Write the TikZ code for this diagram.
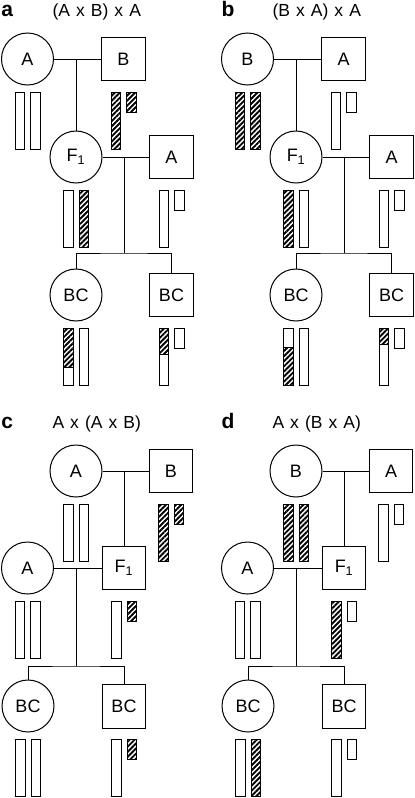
\documentclass[tikz,border=0pt]{standalone}
\usepackage{fontspec}
\setmainfont{Liberation Sans}
\newfontfamily\titlefont[WordSpace=1.25]{Liberation Sans}
\usepackage{tikz}
\usetikzlibrary{calc, patterns.meta}

\tikzset{
  female/.style={circle, draw, line width=1pt, minimum size=52pt, inner sep=0pt,
    font=\fontsize{18}{20}\selectfont},
  male/.style={rectangle, draw, line width=1pt, minimum size=43.5pt, inner sep=0pt,
    font=\fontsize{18}{20}\selectfont},
  panellabel/.style={anchor=base west, inner sep=0pt, font=\fontsize{21}{23}\selectfont\bfseries},
  crosstitle/.style={anchor=base west, inner sep=0pt, font=\titlefont\fontsize{17.5}{19}\selectfont},
  plainbar/.style={draw, line width=1pt, fill=white},
  hatchbar/.style={draw, line width=1pt, pattern={Lines[angle=45,distance=3.6pt,line width=1.9pt]}}
}

% chromosome bars below a node: #1 node, #2 left edge from its centre, #3 style
\newcommand{\chrlong}[3]{\draw[#3] ($(#1)+(#2,33)$) rectangle ++(9.5,57);}
\newcommand{\chrshort}[3]{\draw[#3] ($(#1)+(#2,33)$) rectangle ++(9.5,20);}
% #3 length of the upper part, #4 upper style, #5 lower style
\newcommand{\chrsplit}[5]{%
  \draw[#4] ($(#1)+(#2,33)$) rectangle ++(9.5,#3);
  \draw[#5] ($(#1)+(#2,33+#3)$) rectangle ++(9.5,57-#3);}

\begin{document}
\begin{tikzpicture}[x=1pt, y=-1pt, line width=1pt]
\useasboundingbox (0,0) rectangle (415,798);

% ---- a : (A x B) x A
\begin{scope}
  \node[panellabel] at (1,16.5) {a};
  \node[crosstitle] at (52,16) {(A x B) x A};
  \node[female] (a-dam) at (27.5,59) {A};
  \node[male] (a-sire) at (123.5,59) {B};
  \node[female] (a-f1) at (76,157) {F\textsubscript{1}};
  \node[male] (a-mate) at (171.5,157) {A};
  \node[female] (a-bcf) at (76,295) {BC};
  \node[male] (a-bcm) at (171.5,295) {BC};
  \coordinate (a-sib) at (124,253);

  \draw (a-dam) -- (a-sire);
  \draw (a-f1) -- (a-f1 |- a-dam);
  \draw (a-f1) -- (a-mate);
  \draw (a-sib |- a-f1) -- (a-sib);
  \draw (a-bcf) |- (a-sib) -| (a-bcm);

  \chrlong{a-dam}{-12.5}{plainbar} \chrlong{a-dam}{3}{plainbar}
  \chrlong{a-sire}{-12.5}{hatchbar} \chrshort{a-sire}{3}{hatchbar}
  \chrlong{a-f1}{-12.5}{plainbar} \chrlong{a-f1}{3}{hatchbar}
  \chrlong{a-mate}{-12.5}{plainbar} \chrshort{a-mate}{3}{plainbar}
  \chrsplit{a-bcf}{-12.5}{39}{hatchbar}{plainbar} \chrlong{a-bcf}{3}{plainbar}
  \chrsplit{a-bcm}{-12.5}{26}{hatchbar}{plainbar} \chrshort{a-bcm}{3}{plainbar}
\end{scope}

% ---- b : (B x A) x A
\begin{scope}[shift={(220,0)}]
  \node[panellabel] at (1,16.5) {b};
  \node[crosstitle] at (52,16) {(B x A) x A};
  \node[female] (b-dam) at (27.5,59) {B};
  \node[male] (b-sire) at (123.5,59) {A};
  \node[female] (b-f1) at (76,157) {F\textsubscript{1}};
  \node[male] (b-mate) at (171.5,157) {A};
  \node[female] (b-bcf) at (76,295) {BC};
  \node[male] (b-bcm) at (171.5,295) {BC};
  \coordinate (b-sib) at (124,253);

  \draw (b-dam) -- (b-sire);
  \draw (b-f1) -- (b-f1 |- b-dam);
  \draw (b-f1) -- (b-mate);
  \draw (b-sib |- b-f1) -- (b-sib);
  \draw (b-bcf) |- (b-sib) -| (b-bcm);

  \chrlong{b-dam}{-12.5}{hatchbar} \chrlong{b-dam}{3}{hatchbar}
  \chrlong{b-sire}{-12.5}{plainbar} \chrshort{b-sire}{3}{plainbar}
  \chrlong{b-f1}{-12.5}{hatchbar} \chrlong{b-f1}{3}{plainbar}
  \chrlong{b-mate}{-12.5}{plainbar} \chrshort{b-mate}{3}{plainbar}
  \chrsplit{b-bcf}{-12.5}{19}{plainbar}{hatchbar} \chrlong{b-bcf}{3}{plainbar}
  \chrsplit{b-bcm}{-12.5}{16}{hatchbar}{plainbar} \chrshort{b-bcm}{3}{plainbar}
\end{scope}

% ---- c : A x (A x B)
\begin{scope}[shift={(0,412)}]
  \node[panellabel] at (1,16.5) {c};
  \node[crosstitle] at (52,16) {A x (A x B)};
  \node[female] (c-dam) at (76,59) {A};
  \node[male] (c-sire) at (171,59) {B};
  \node[male] (c-f1) at (124,156) {F\textsubscript{1}};
  \node[female] (c-mate) at (27.5,156) {A};
  \node[female] (c-bcf) at (28,294) {BC};
  \node[male] (c-bcm) at (124,294.5) {BC};
  \coordinate (c-sib) at (76,254);

  \draw (c-dam) -- (c-sire);
  \draw (c-f1) -- (c-f1 |- c-dam);
  \draw (c-mate) -- (c-f1);
  \draw (c-sib |- c-f1) -- (c-sib);
  \draw (c-bcf) |- (c-sib) -| (c-bcm);

  \chrlong{c-dam}{-12.5}{plainbar} \chrlong{c-dam}{3}{plainbar}
  \chrlong{c-sire}{-12.5}{hatchbar} \chrshort{c-sire}{3}{hatchbar}
  \chrlong{c-mate}{-12.5}{plainbar} \chrlong{c-mate}{3}{plainbar}
  \chrlong{c-f1}{-12.5}{plainbar} \chrshort{c-f1}{3}{hatchbar}
  \chrlong{c-bcf}{-12.5}{plainbar} \chrlong{c-bcf}{3}{plainbar}
  \chrlong{c-bcm}{-12.5}{plainbar} \chrshort{c-bcm}{3}{hatchbar}
\end{scope}

% ---- d : A x (B x A)
\begin{scope}[shift={(220,412)}]
  \node[panellabel] at (1,16.5) {d};
  \node[crosstitle] at (52,16) {A x (B x A)};
  \node[female] (d-dam) at (76,59) {B};
  \node[male] (d-sire) at (171,59) {A};
  \node[male] (d-f1) at (124,156) {F\textsubscript{1}};
  \node[female] (d-mate) at (27.5,156) {A};
  \node[female] (d-bcf) at (28,294) {BC};
  \node[male] (d-bcm) at (124,294.5) {BC};
  \coordinate (d-sib) at (76,254);

  \draw (d-dam) -- (d-sire);
  \draw (d-f1) -- (d-f1 |- d-dam);
  \draw (d-mate) -- (d-f1);
  \draw (d-sib |- d-f1) -- (d-sib);
  \draw (d-bcf) |- (d-sib) -| (d-bcm);

  \chrlong{d-dam}{-12.5}{hatchbar} \chrlong{d-dam}{3}{hatchbar}
  \chrlong{d-sire}{-12.5}{plainbar} \chrshort{d-sire}{3}{plainbar}
  \chrlong{d-mate}{-12.5}{plainbar} \chrlong{d-mate}{3}{plainbar}
  \chrlong{d-f1}{-12.5}{hatchbar} \chrshort{d-f1}{3}{plainbar}
  \chrlong{d-bcf}{-12.5}{plainbar} \chrlong{d-bcf}{3}{hatchbar}
  \chrlong{d-bcm}{-12.5}{plainbar} \chrshort{d-bcm}{3}{plainbar}
\end{scope}
\end{tikzpicture}
\end{document}
